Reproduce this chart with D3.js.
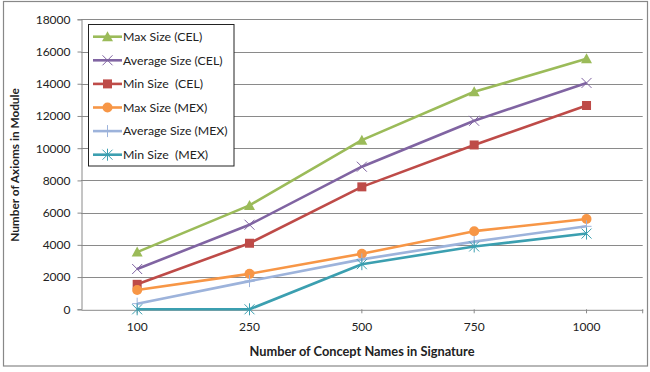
<!DOCTYPE html>
<html><head><meta charset="utf-8">
<script src="https://cdn.jsdelivr.net/npm/d3@7/dist/d3.min.js"></script>
<style>body{margin:0;background:#fff}svg{display:block}text{font-family:Lato,"Open Sans",sans-serif}</style>
</head><body><svg id="c" width="650" height="372"></svg>
<script>
const categories = ["100","250","500","750","1000"];
const yTicks = [0,2000,4000,6000,8000,10000,12000,14000,16000,18000];
const seriesNames = ["Max Size (CEL)","Average Size (CEL)","Min Size  (CEL)","Max Size (MEX)","Average Size (MEX)","Min Size  (MEX)"];
const maxCEL = [3550,6450,10500,13500,15550];
const avgCEL = [2500,5250,8850,11700,14050];
const minCEL = [1550,4100,7600,10200,12650];
const maxMEX = [1200,2200,3450,4850,5600];
const avgMEX = [350,1750,3100,4200,5150];
const minMEX = [0,0,2800,3900,4700];
const colors = ["#9BBB59","#8064A2","#BE4B48","#F79646","#9DB3DB","#3B9FB0"];
const markers = ["triangle","x","square","circle","plus","star"];
const values = [maxCEL,avgCEL,minCEL,maxMEX,avgMEX,minMEX];

const svg = d3.select("#c");
svg.append("rect").attr("x",3.5).attr("y",1.5).attr("width",644).attr("height",364.5).attr("fill","#fff").attr("stroke","#888").attr("stroke-width",1.2);

const L=81,R=642.7,T=19.3,B=309.3;
const x = d3.scaleBand().domain(categories).range([L,R]);
const y = d3.scaleLinear().domain([0,18000]).range([B,T]);

svg.append("g").selectAll("line").data(yTicks.filter(d=>d>0)).join("line")
  .attr("x1",L).attr("x2",R).attr("y1",d=>Math.round(y(d))+0.5).attr("y2",d=>Math.round(y(d))+0.5)
  .attr("stroke","#8a8a8a").attr("stroke-width",1);

const ya = svg.append("g").attr("transform",`translate(${L+0.5},0)`)
  .call(d3.axisLeft(y).tickValues(yTicks).tickSize(4).tickPadding(7).tickFormat(d3.format("d")));
ya.select(".domain").attr("stroke","#8a8a8a");
ya.selectAll(".tick line").attr("stroke","#8a8a8a");
ya.selectAll("text").attr("font-size",12).attr("fill","#222").attr("font-family","Lato,sans-serif");

const xa = svg.append("g").attr("transform",`translate(0,${B+0.5})`)
  .call(d3.axisBottom(x).tickSizeOuter(0).tickSize(0).tickPadding(13));
xa.select(".domain").attr("stroke","#8a8a8a");
xa.selectAll("text").attr("font-size",12).attr("fill","#222").attr("font-family","Lato,sans-serif");
svg.append("g").selectAll("line").data(categories).join("line")
  .attr("x1",d=>x(d)+x.bandwidth()/2).attr("x2",d=>x(d)+x.bandwidth()/2)
  .attr("y1",B).attr("y2",B+4).attr("stroke","#8a8a8a");
svg.append("line").attr("x1",R).attr("x2",R).attr("y1",B).attr("y2",B+4).attr("stroke","#8a8a8a");

svg.append("text").attr("x",362).attr("y",356).attr("text-anchor","middle").attr("font-size",12.8).attr("font-weight","bold").attr("fill","#222").text("Number of Concept Names in Signature");
svg.append("text").attr("transform","translate(19,165) rotate(-90)").attr("text-anchor","middle").attr("font-size",11.8).attr("font-weight","bold").attr("fill","#222").text("Number of Axioms in Module");

function drawMarker(g,type,color,cx,cy){
  if(type==="triangle"){
    g.append("path").attr("d",`M${cx},${cy-5.5}L${cx+5.5},${cy+4.5}L${cx-5.5},${cy+4.5}Z`).attr("fill",color);
  } else if(type==="square"){
    g.append("rect").attr("x",cx-4.5).attr("y",cy-4.5).attr("width",9).attr("height",9).attr("fill",color);
  } else if(type==="circle"){
    g.append("circle").attr("cx",cx).attr("cy",cy).attr("r",5).attr("fill",color);
  } else if(type==="x"){
    g.append("path").attr("d",`M${cx-5},${cy-5}L${cx+5},${cy+5}M${cx-5},${cy+5}L${cx+5},${cy-5}`).attr("stroke",color).attr("stroke-width",1).attr("fill","none");
  } else if(type==="plus"){
    g.append("path").attr("d",`M${cx},${cy-6}L${cx},${cy+6}M${cx-5},${cy}L${cx+5},${cy}`).attr("stroke",color).attr("stroke-width",1).attr("fill","none");
  } else if(type==="star"){
    g.append("path").attr("d",`M${cx-5},${cy-5}L${cx+5},${cy+5}M${cx-5},${cy+5}L${cx+5},${cy-5}M${cx},${cy-6}L${cx},${cy+6}`).attr("stroke",color).attr("stroke-width",1).attr("fill","none");
  }
}

const line = d3.line().x((d,i)=>x(categories[i])+x.bandwidth()/2).y(d=>y(d));
values.forEach((vals,si)=>{
  const g = svg.append("g");
  g.append("path").attr("d",line(vals)).attr("fill","none").attr("stroke",colors[si]).attr("stroke-width",2.6).attr("stroke-linejoin","round");
  vals.forEach((v,i)=>drawMarker(g,markers[si],colors[si],x(categories[i])+x.bandwidth()/2,y(v)));
});

const lg = svg.append("g");
lg.append("rect").attr("x",88.5).attr("y",24.5).attr("width",145.5).attr("height",141.5).attr("fill","#fff").attr("stroke","#222").attr("stroke-width",1);
seriesNames.forEach((n,i)=>{
  const yy = 36.7 + i*23.6;
  lg.append("line").attr("x1",93).attr("x2",122).attr("y1",yy).attr("y2",yy).attr("stroke",colors[i]).attr("stroke-width",2.6);
  drawMarker(lg,markers[i],colors[i],107.5,yy);
  lg.append("text").attr("x",123).attr("y",yy+4.2).attr("font-size",12.3).attr("fill","#222").attr("xml:space","preserve").text(n);
});
</script></body></html>
